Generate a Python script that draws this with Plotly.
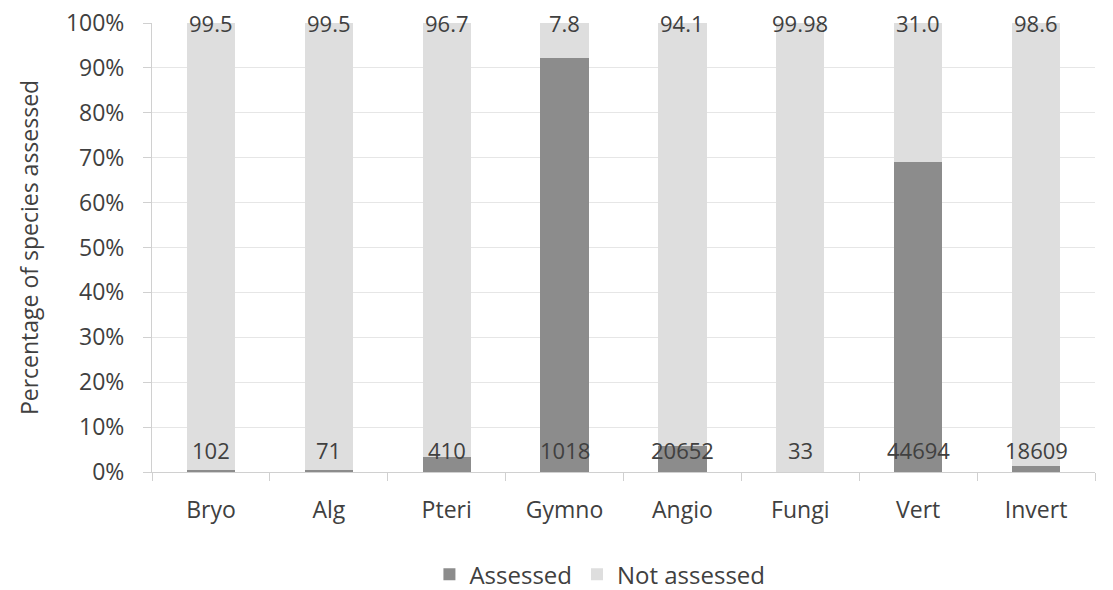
import plotly.graph_objects as go

categories = ["Bryo", "Alg", "Pteri", "Gymno", "Angio", "Fungi", "Vert", "Invert"]
assessed_pct = [0.5, 0.5, 3.3, 92.2, 5.9, 0.02, 69.0, 1.4]
not_assessed_pct = [99.5, 99.5, 96.7, 7.8, 94.1, 99.98, 31.0, 98.6]
not_assessed_labels = ["99.5", "99.5", "96.7", "7.8", "94.1", "99.98", "31.0", "98.6"]
assessed_counts = ["102", "71", "410", "1018", "20652", "33", "44694", "18609"]

FONT = "'Open Sans', Lato, sans-serif"
TXT = "#404040"
FS = 23
FS_NUM = 22

fig = go.Figure()
fig.add_trace(go.Bar(x=categories, y=assessed_pct, name="Assessed",
                     marker=dict(color="#8c8c8c", line=dict(width=0)), width=0.41))
fig.add_trace(go.Bar(x=categories, y=not_assessed_pct, name="Not assessed",
                     marker=dict(color="#dedede", line=dict(width=0)), width=0.41))

for c, t in zip(categories, not_assessed_labels):
    fig.add_annotation(x=c, y=100, text=t, showarrow=False, yanchor="middle",
                       font=dict(size=FS_NUM, color=TXT, family=FONT))
for c, t in zip(categories, assessed_counts):
    fig.add_annotation(x=c, y=5, text=t, showarrow=False, yanchor="middle",
                       font=dict(size=FS_NUM, color=TXT, family=FONT))

fig.update_layout(
    barmode="stack",
    width=1113, height=590,
    margin=dict(l=152, r=18, t=23, b=118, autoexpand=False),
    plot_bgcolor="white", paper_bgcolor="white",
    font=dict(family=FONT, color=TXT, size=FS),
    legend=dict(orientation="h", x=0.475, xanchor="center",
                yref="container", y=0.026, yanchor="middle",
                font=dict(size=24, color=TXT, family=FONT),
                traceorder="normal"),
    xaxis=dict(tickson="boundaries", ticks="outside", ticklen=8, tickcolor="#d0d0d0",
               showline=True, linecolor="#d0d0d0", linewidth=1,
               tickfont=dict(size=FS, color=TXT, family=FONT), ticklabelstandoff=17),
    yaxis=dict(range=[0, 100], dtick=10, ticksuffix="%", ticks="outside", ticklen=8,
               tickcolor="#d0d0d0", showline=True, linecolor="#d0d0d0",
               gridcolor="#e6e6e6", gridwidth=1, ticklabelstandoff=14,
               tickfont=dict(size=FS, color=TXT, family=FONT),
               title=dict(text="Percentage of species assessed",
                          font=dict(size=FS, color=TXT, family=FONT), standoff=20)),
)

fig.write_html("out.html")
